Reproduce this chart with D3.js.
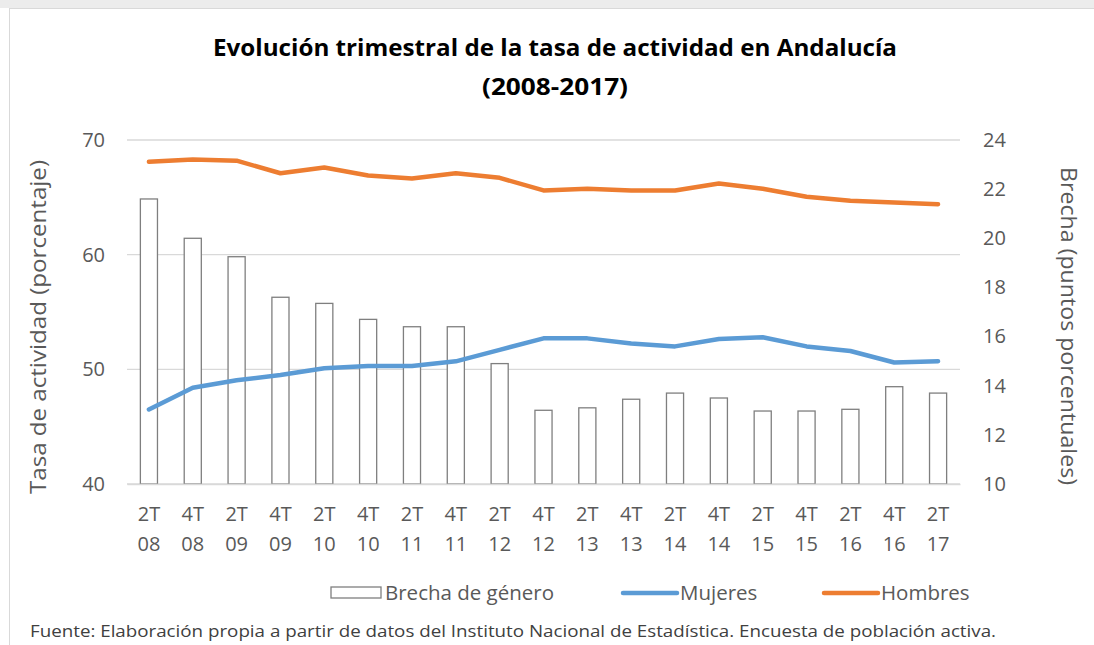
<!DOCTYPE html>
<html>
<head>
<meta charset="utf-8">
<script src="https://cdn.jsdelivr.net/npm/d3@7"></script>
<style>
  body { margin: 0; background: #fff; }
  text { font-family: "Open Sans", sans-serif; }
</style>
</head>
<body>
<svg id="drawing_region"></svg>
<script>
const categories = ['2T 08','4T 08','2T 09','4T 09','2T 10','4T 10','2T 11','4T 11','2T 12','4T 12',
                    '2T 13','4T 13','2T 14','4T 14','2T 15','4T 15','2T 16','4T 16','2T 17'];
const brecha  = [21.6, 20.0, 19.25, 17.6, 17.35, 16.7, 16.4, 16.4, 14.9, 13.0,
                 13.1, 13.45, 13.7, 13.5, 12.97, 12.97, 13.04, 13.96, 13.7];
const mujeres = [46.5, 48.4, 49.05, 49.5, 50.1, 50.3, 50.3, 50.7, 51.7, 52.7,
                 52.7, 52.25, 52.0, 52.65, 52.8, 52.0, 51.6, 50.6, 50.7];
const hombres = [68.1, 68.3, 68.2, 67.1, 67.6, 66.9, 66.65, 67.1, 66.7, 65.6,
                 65.75, 65.6, 65.6, 66.2, 65.75, 65.05, 64.7, 64.55, 64.4];
const leftTicks = [40, 50, 60, 70];
const rightTicks = [10, 12, 14, 16, 18, 20, 22, 24];

const config = {
    width: 1094,
    height: 645,
    margin: {top: 140, right: 134, bottom: 161, left: 127}
};

const svg = d3.select('#drawing_region')
    .attr('width', config.width)
    .attr('height', config.height);

// chart frame
svg.append('rect')
    .attr('x', 0).attr('y', 0)
    .attr('width', config.width).attr('height', 8)
    .attr('fill', '#ececec');
svg.append('rect')
    .attr('x', 9.5).attr('y', 8.5)
    .attr('width', 1100).attr('height', 700)
    .attr('fill', '#fff')
    .attr('stroke', '#d9d9d9');

const inner_width = config.width - config.margin.left - config.margin.right;
const inner_height = config.height - config.margin.top - config.margin.bottom;

const chart = svg.append('g')
    .attr('transform', `translate(${config.margin.left}, ${config.margin.top})`);

const xscale = d3.scaleBand()
    .domain(categories)
    .range([0, inner_width])
    .paddingInner(0.61)
    .paddingOuter(0.305);

const xpoint = d => xscale(d) + xscale.bandwidth() / 2;

const yleft = d3.scaleLinear().domain([40, 70]).range([inner_height, 0]);
const yright = d3.scaleLinear().domain([10, 24]).range([inner_height, 0]);

// gridlines
chart.append('g')
    .selectAll('line')
    .data(leftTicks)
    .join('line')
    .attr('x1', 0).attr('x2', inner_width)
    .attr('y1', d => yleft(d)).attr('y2', d => yleft(d))
    .attr('stroke', '#d9d9d9')
    .attr('stroke-width', 1.3);

// left axis
const yaxisL = d3.axisLeft(yleft).tickValues(leftTicks).tickSize(0).tickPadding(22);
chart.append('g')
    .call(yaxisL)
    .call(g => g.select('.domain').remove())
    .selectAll('text')
    .attr('font-family', '"Open Sans", sans-serif')
    .attr('font-size', 20)
    .attr('fill', '#595959');

// right axis
const yaxisR = d3.axisRight(yright).tickValues(rightTicks).tickSize(0).tickPadding(23);
chart.append('g')
    .attr('transform', `translate(${inner_width}, 0)`)
    .call(yaxisR)
    .call(g => g.select('.domain').remove())
    .selectAll('text')
    .attr('font-family', '"Open Sans", sans-serif')
    .attr('font-size', 20)
    .attr('fill', '#595959');

// bars
chart.append('g')
    .selectAll('rect')
    .data(categories)
    .join('rect')
    .attr('x', d => xscale(d))
    .attr('y', (d, i) => yright(brecha[i]))
    .attr('width', xscale.bandwidth())
    .attr('height', (d, i) => inner_height - yright(brecha[i]))
    .attr('fill', '#fff')
    .attr('stroke', '#7f7f7f')
    .attr('stroke-width', 1.3);

// x axis
const xaxis = d3.axisBottom(xscale).tickSize(0).tickPadding(0);
const xg = chart.append('g')
    .attr('transform', `translate(0, ${inner_height})`)
    .call(xaxis);
xg.select('.domain').attr('stroke', '#d9d9d9').attr('stroke-width', 1.3);
xg.selectAll('.tick text').each(function(d) {
    const parts = d.split(' ');
    const t = d3.select(this).text(null)
        .attr('font-family', '"Open Sans", sans-serif')
        .attr('font-size', 20)
        .attr('fill', '#595959')
        .attr('dy', null)
        .attr('y', 0);
    t.append('tspan').attr('x', 0).attr('y', 37).text(parts[0]);
    t.append('tspan').attr('x', 0).attr('y', 67).text(parts[1]);
});

// lines
const line = arr => d3.line()
    .x((d, i) => xpoint(categories[i]))
    .y(d => yleft(d))(arr);

chart.append('path')
    .attr('d', line(mujeres))
    .attr('fill', 'none')
    .attr('stroke', '#5b9bd5')
    .attr('stroke-width', 4.5)
    .attr('stroke-linejoin', 'round')
    .attr('stroke-linecap', 'round');

chart.append('path')
    .attr('d', line(hombres))
    .attr('fill', 'none')
    .attr('stroke', '#ed7d31')
    .attr('stroke-width', 4.5)
    .attr('stroke-linejoin', 'round')
    .attr('stroke-linecap', 'round');

// axis titles
svg.append('text')
    .attr('transform', `translate(46, 327) rotate(-90)`)
    .attr('text-anchor', 'middle')
    .attr('font-size', 22)
    .attr('fill', '#595959')
    .attr('textLength', 334)
    .attr('lengthAdjust', 'spacingAndGlyphs')
    .text('Tasa de actividad (porcentaje)');

svg.append('text')
    .attr('transform', `translate(1061, 326) rotate(90)`)
    .attr('text-anchor', 'middle')
    .attr('font-size', 22)
    .attr('fill', '#595959')
    .attr('textLength', 318)
    .attr('lengthAdjust', 'spacingAndGlyphs')
    .text('Brecha (puntos porcentuales)');

// title
svg.append('text')
    .attr('x', 555).attr('y', 56)
    .attr('text-anchor', 'middle')
    .attr('font-size', 23)
    .attr('font-weight', 'bold')
    .attr('fill', '#000')
    .attr('textLength', 684)
    .attr('lengthAdjust', 'spacingAndGlyphs')
    .text('Evolución trimestral de la tasa de actividad en Andalucía');

svg.append('text')
    .attr('x', 555).attr('y', 95)
    .attr('text-anchor', 'middle')
    .attr('font-size', 23)
    .attr('font-weight', 'bold')
    .attr('fill', '#000')
    .attr('textLength', 146)
    .attr('lengthAdjust', 'spacingAndGlyphs')
    .text('(2008-2017)');

// legend
const legend = svg.append('g').attr('font-size', 20.5).attr('fill', '#595959');
legend.append('rect')
    .attr('x', 331).attr('y', 587).attr('width', 50).attr('height', 11)
    .attr('fill', '#fff').attr('stroke', '#7f7f7f').attr('stroke-width', 1.3);
legend.append('text').attr('x', 385).attr('y', 600).text('Brecha de género');

legend.append('line')
    .attr('x1', 623).attr('x2', 677).attr('y1', 593).attr('y2', 593)
    .attr('stroke', '#5b9bd5').attr('stroke-width', 4.5).attr('stroke-linecap', 'round');
legend.append('text').attr('x', 680).attr('y', 600).text('Mujeres');

legend.append('line')
    .attr('x1', 824).attr('x2', 878).attr('y1', 593).attr('y2', 593)
    .attr('stroke', '#ed7d31').attr('stroke-width', 4.5).attr('stroke-linecap', 'round');
legend.append('text').attr('x', 881).attr('y', 600).text('Hombres');

// source note
svg.append('text')
    .attr('x', 30).attr('y', 637)
    .attr('font-size', 16)
    .attr('fill', '#404040')
    .attr('textLength', 966)
    .attr('lengthAdjust', 'spacingAndGlyphs')
    .text('Fuente: Elaboración propia a partir de datos del Instituto Nacional de Estadística. Encuesta de población activa.');
</script>
</body>
</html>
